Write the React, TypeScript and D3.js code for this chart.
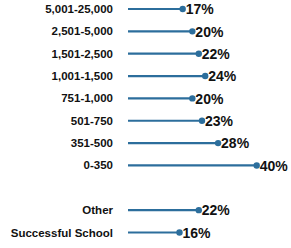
import React, { useEffect, useRef } from 'react';
import * as d3 from 'd3';

const categories = [
  '5,001-25,000',
  '2,501-5,000',
  '1,501-2,500',
  '1,001-1,500',
  '751-1,000',
  '501-750',
  '351-500',
  '0-350',
  '',
  'Other',
  'Successful School',
];
const values = [0.17, 0.2, 0.22, 0.24, 0.2, 0.23, 0.28, 0.4, null, 0.22, 0.16];

const width = 291;
const height = 248;
const color = '#2c6e9c';

const App: React.FC = () => {
  const svgRef = useRef<SVGSVGElement | null>(null);

  useEffect(() => {
    document.body.style.margin = '0';
    if (!svgRef.current) return;
    const svg = d3.select(svgRef.current);
    svg.selectAll('*').remove();

    const x = d3.scaleLinear().domain([0, 0.4]).range([128, 256.7]);
    const y = d3.scalePoint<string>().domain(categories.map((c, i) => c || `blank${i}`)).range([9, 232.5]);

    const rows = categories
      .map((c, i) => ({ key: c || `blank${i}`, label: c, value: values[i] }))
      .filter((d) => d.value !== null) as { key: string; label: string; value: number }[];

    const g = svg.append('g');

    // category labels
    g.selectAll('.cat')
      .data(rows)
      .enter()
      .append('text')
      .attr('class', 'cat')
      .attr('x', 113)
      .attr('y', (d) => y(d.key)!)
      .attr('dy', '0.35em')
      .attr('text-anchor', 'end')
      .style('font-family', 'Liberation Sans, Arial, sans-serif')
      .style('font-weight', 'bold')
      .style('font-size', '11.5px')
      .style('fill', '#111')
      .text((d) => d.label);

    // stems
    g.selectAll('.stem')
      .data(rows)
      .enter()
      .append('line')
      .attr('x1', x(0))
      .attr('x2', (d) => x(d.value))
      .attr('y1', (d) => y(d.key)!)
      .attr('y2', (d) => y(d.key)!)
      .style('stroke', color)
      .style('stroke-width', 2.2);

    // dots
    g.selectAll('.dot')
      .data(rows)
      .enter()
      .append('circle')
      .attr('cx', (d) => x(d.value))
      .attr('cy', (d) => y(d.key)!)
      .attr('r', 3.2)
      .style('fill', color);

    // value labels
    g.selectAll('.val')
      .data(rows)
      .enter()
      .append('text')
      .attr('x', (d) => x(d.value) + 3)
      .attr('y', (d) => y(d.key)!)
      .attr('dy', '0.38em')
      .style('font-family', 'Liberation Sans, Arial, sans-serif')
      .style('font-weight', 'bold')
      .style('font-size', '14px')
      .style('fill', '#111')
      .text((d) => d3.format('.0%')(d.value));
  }, []);

  return <svg ref={svgRef} width={width} height={height} style={{ display: 'block' }}></svg>;
};

export default App;
